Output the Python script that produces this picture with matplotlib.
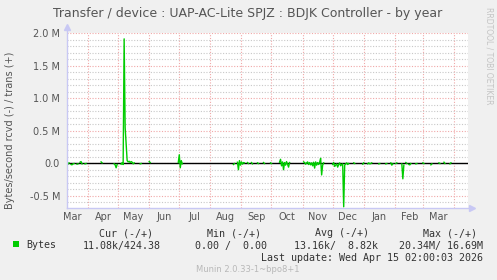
import numpy as np
import matplotlib
matplotlib.use('Agg')
import matplotlib.pyplot as plt
import matplotlib.dates as mdates
from matplotlib.patches import Rectangle

W, H = 497, 280

# graph window (munin "by year" = 400 days)
start = np.datetime64('2025-03-11T02:00')
end = np.datetime64('2026-04-15T02:00')

# daily values in kB/s, one list per run of known samples, with the day it starts on
seg_start = [0, 4, 10, 13, 18, 34, 47, 54, 73, 82, 111, 166, 170, 180, 184, 190, 196,
             203, 212, 236, 265, 286, 295, 300, 311, 318, 323, 328, 334, 338, 341,
             348, 355, 363, 371, 376, 382]
seg_vals = [
    [10, -15, 5],
    [-20, -25, -10, -5],
    [-15, -10],
    [15, 25, -10],
    [-10, -5],
    [20, 5],
    [-10, -25, -70, -20],
    [-15, 10, -20, 1910, 550, 300, 40, 20, 30, 10, 25, 15, -10, 5],
    [-10, -5],
    [25, 10],
    [10, 130, -70, 40, -10],
    [-20, -5],
    [15, -100, 40, -30, 20, -15, 10, 5],
    [10, -5],
    [10, -10],
    [5, -5],
    [10, -5],
    [5, -5],
    [15, 60, -40, 20, -100, 10, -30, 25, -20, -60, 10],
    [20, 10, -15, 5, 20, -20, 10, -25, 5, -40, 15, -75, 20, -30, 10, -20, 15, 75, -180, -30, 5],
    [-20, 10, -50, -30, -10, -60, -20, 5, -40, -20, -10, -670, -30, -10, 5, -20, -5],
    [5, -5],
    [-15, 5],
    [-10, 5, -10, -5, 5],
    [-10, -5],
    [-10, -5],
    [5, -30, -10],
    [-5, 5],
    [-10, -240, -30],
    [10, -5],
    [-20, -25, -5],
    [-10, -5],
    [5, -5],
    [-25, -10],
    [5, -5],
    [15, -5],
    [-10, 5],
]

y_ticks = [-0.5e6, 0.0, 0.5e6, 1.0e6, 1.5e6, 2.0e6]
y_labels = ['-0.5 M', '0.0', '0.5 M', '1.0 M', '1.5 M', '2.0 M']

title = 'Transfer / device : UAP-AC-Lite SPJZ : BDJK Controller - by year'
ylabel = 'Bytes/second rcvd (-) / trans (+)'
legend_name = 'Bytes'
col_heads = ['Cur (-/+)', 'Min (-/+)', 'Avg (-/+)', 'Max (-/+)']
col_vals = ['11.08k/424.38', '0.00 /  0.00', '13.16k/  8.82k', '20.34M/ 16.69M']
last_update = 'Last update: Wed Apr 15 02:00:03 2026'
footer = 'Munin 2.0.33-1~bpo8+1'

ndays = 401
vals = np.full(ndays, np.nan)
for s, v in zip(seg_start, seg_vals):
    vals[s:s + len(v)] = np.array(v) * 1000.0
days = start + np.arange(ndays).astype('timedelta64[D]')

BG = '#f0f0f0'
TXT = '#555555'
AXC = '#c8c8f4'
MGRID = '#f0a8a8'
GRID = '#c8c8c8'

fig = plt.figure(figsize=(W / 100, H / 100), dpi=100, facecolor=BG)
ax = fig.add_axes([67 / W, 1 - 208 / H, 401 / W, 175 / H], facecolor='white')

ax.set_xlim(start, end)
ax.set_ylim(-0.688e6, 2.0e6)

ax.xaxis.set_major_locator(mdates.MonthLocator())
ax.xaxis.set_major_formatter(matplotlib.ticker.NullFormatter())
ax.xaxis.set_minor_locator(mdates.MonthLocator(bymonthday=16))
ax.xaxis.set_minor_formatter(mdates.DateFormatter('%b'))
ax.set_yticks(y_ticks)
ax.set_yticklabels(y_labels)
ax.yaxis.set_minor_locator(matplotlib.ticker.MultipleLocator(0.1e6))

ax.tick_params(axis='both', which='both', length=0, labelsize=7, colors=TXT)
ax.tick_params(axis='y', pad=5)
ax.tick_params(axis='x', which='minor', pad=3)

ax.grid(True, which='major', axis='both', color=MGRID, linestyle=(0, (1, 1.5)), lw=0.8)
ax.grid(True, which='minor', axis='y', color=GRID, linestyle=(0, (1, 1.5)), lw=0.8)
ax.set_axisbelow(True)

for sp in ax.spines.values():
    sp.set_visible(False)

ax.axhline(0, color='black', lw=1, zorder=3)
ax.plot(days, vals, color='#00cc00', lw=1, zorder=4)

# axes with arrows, rrdtool style
ax.plot([0, 0], [0, 1 + 6 / 175], transform=ax.transAxes, color=AXC, lw=1, clip_on=False, zorder=5)
ax.plot([0], [1 + 6 / 175], transform=ax.transAxes, marker='^', ms=4, color=AXC, clip_on=False, zorder=5)
ax.plot([0, 1 + 4 / 401], [0, 0], transform=ax.transAxes, color=AXC, lw=1, clip_on=False, zorder=5)
ax.plot([1 + 4 / 401], [0], transform=ax.transAxes, marker='>', ms=4, color=AXC, clip_on=False, zorder=5)


def fx(x):
    return x / W


def fy(y):
    return 1 - y / H


fig.text(fx(248), fy(13.5), title, ha='center', va='center', fontsize=9, color=TXT)
fig.text(fx(10.5), fy(130), ylabel, ha='center', va='center', rotation=90, fontsize=7, color=TXT)
fig.text(fx(489), fy(56), 'RRDTOOL / TOBI OETIKER', ha='center', va='center', rotation=270,
         fontsize=5.5, color='#c4c4c4')

mono = 'DejaVu Sans Mono'
head_x = [98.7, 207.3, 315.3, 423.3]
val_right = [161, 266.7, 378.3, 483.3]
for hx, h in zip(head_x, col_heads):
    fig.text(fx(hx), fy(233.5), h, ha='left', va='center', fontsize=7.2, family=mono, color='#333333')
for vx, v in zip(val_right, col_vals):
    fig.text(fx(vx), fy(245.5), v, ha='right', va='center', fontsize=7.2, family=mono, color='#333333')
fig.patches.append(Rectangle((fx(13.3), fy(247)), 6 / W, 6 / H, transform=fig.transFigure,
                             facecolor='#00cc00', edgecolor='none'))
fig.text(fx(26.7), fy(245.5), legend_name, ha='left', va='center', fontsize=7.2, family=mono, color='#333333')
fig.text(fx(483.3), fy(257.7), last_update, ha='right', va='center', fontsize=7.2, family=mono, color='#333333')
fig.text(fx(248), fy(269.3), footer, ha='center', va='center', fontsize=6, color='#b8b8b8')

fig.savefig('out.png', dpi=100, facecolor=BG)
